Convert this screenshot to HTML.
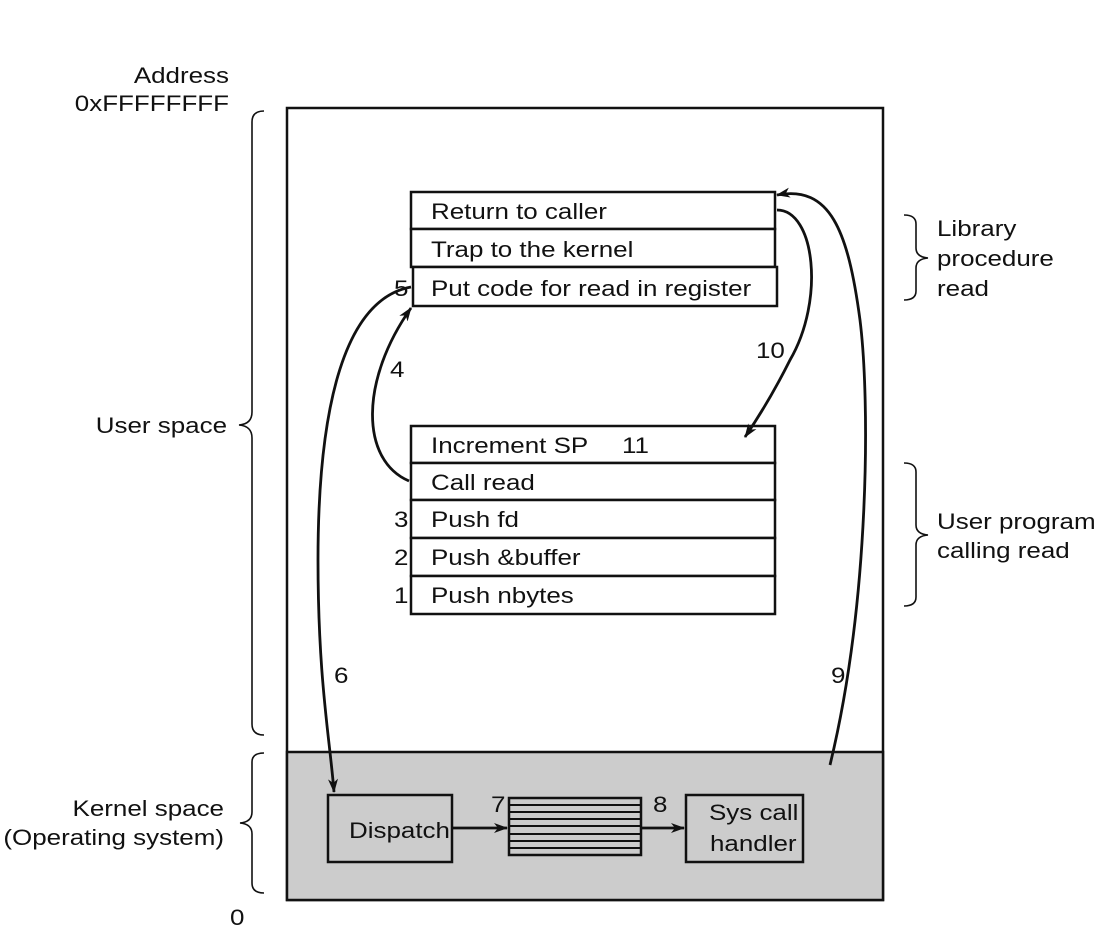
<!DOCTYPE html>
<html><head><style>
html,body{margin:0;padding:0;background:#fff;}
svg{display:block;}
text{font-family:"Liberation Sans",Arial,sans-serif;font-size:22px;fill:#111;}
</style></head><body>
<svg width="1114" height="940" viewBox="0 0 1114 940">
<defs>
<marker id="ah" markerWidth="14" markerHeight="10" refX="13" refY="5" orient="auto" markerUnits="userSpaceOnUse">
<path d="M0,0 L14,5 L0,10 L4,5 Z" fill="#111"/>
</marker>
</defs>
<rect x="287" y="108" width="596" height="792" fill="#fff" stroke="#111" stroke-width="2.5"/>
<rect x="287" y="752" width="596" height="148" fill="#cccccc" stroke="#111" stroke-width="2.5"/>

<g fill="#fff" stroke="#111" stroke-width="2.5">
<rect x="411" y="192" width="364" height="37"/>
<rect x="411" y="229" width="364" height="38"/>
<rect x="413" y="267" width="364" height="39"/>
<rect x="411" y="426" width="364" height="37"/>
<rect x="411" y="463" width="364" height="37"/>
<rect x="411" y="500" width="364" height="38"/>
<rect x="411" y="538" width="364" height="38"/>
<rect x="411" y="576" width="364" height="38"/>
</g>
<g transform="translate(431,219) scale(1.18,1)"><text>Return to caller</text></g>
<g transform="translate(431,257) scale(1.18,1)"><text>Trap to the kernel</text></g>
<g transform="translate(431,296) scale(1.18,1)"><text>Put code for read in register</text></g>
<g transform="translate(431,453) scale(1.18,1)"><text>Increment SP</text></g>
<g transform="translate(622,453) scale(1.18,1)"><text>11</text></g>
<g transform="translate(431,490) scale(1.18,1)"><text>Call read</text></g>
<g transform="translate(431,527) scale(1.18,1)"><text>Push fd</text></g>
<g transform="translate(431,565) scale(1.18,1)"><text>Push &amp;buffer</text></g>
<g transform="translate(431,603) scale(1.18,1)"><text>Push nbytes</text></g>
<g transform="translate(394,296) scale(1.18,1)"><text>5</text></g>
<g transform="translate(394,527) scale(1.18,1)"><text>3</text></g>
<g transform="translate(394,565) scale(1.18,1)"><text>2</text></g>
<g transform="translate(394,603) scale(1.18,1)"><text>1</text></g>
<g transform="translate(390,377) scale(1.18,1)"><text>4</text></g>
<g transform="translate(756,358) scale(1.18,1)"><text>10</text></g>
<g transform="translate(334,683) scale(1.18,1)"><text>6</text></g>
<g transform="translate(831,683) scale(1.18,1)"><text>9</text></g>

<g fill="#cccccc" stroke="#111" stroke-width="2.5">
<rect x="328" y="795" width="124" height="67"/>
<rect x="686" y="795" width="117" height="67"/>
<rect x="509" y="798" width="132" height="57"/>
</g>
<g stroke="#111" stroke-width="2">
<line x1="509" y1="805" x2="641" y2="805"/>
<line x1="509" y1="812" x2="641" y2="812"/>
<line x1="509" y1="819" x2="641" y2="819"/>
<line x1="509" y1="826" x2="641" y2="826"/>
<line x1="509" y1="834" x2="641" y2="834"/>
<line x1="509" y1="841" x2="641" y2="841"/>
<line x1="509" y1="848" x2="641" y2="848"/>
</g>
<g transform="translate(349,838) scale(1.18,1)"><text>Dispatch</text></g>
<g transform="translate(709,820) scale(1.18,1)"><text>Sys call</text></g>
<g transform="translate(710,851) scale(1.18,1)"><text>handler</text></g>
<g transform="translate(491,812) scale(1.18,1)"><text>7</text></g>
<g transform="translate(653,812) scale(1.18,1)"><text>8</text></g>

<g fill="none" stroke="#111" stroke-width="2.8">
<line x1="452" y1="828" x2="507" y2="828" marker-end="url(#ah)"/>
<line x1="641" y1="828" x2="684" y2="828" marker-end="url(#ah)"/>
<path d="M411,287 C340,300 318,420 318,560 C318,680 330,740 334,792" marker-end="url(#ah)"/>
<path d="M409,481 C360,460 360,380 411,308" marker-end="url(#ah)"/>
<path d="M777,210 C815,210 825,300 790,360 C775,390 760,415 745,437" marker-end="url(#ah)"/>
<path d="M830,765 C870,600 870,400 860,320 C848,230 830,185 777,195" marker-end="url(#ah)"/>
</g>

<g fill="none" stroke="#111" stroke-width="1.6">
<path d="M264,111 Q252,111 252,122 L252,412 Q252,424 239,425 Q252,426 252,438 L252,724 Q252,735 264,735"/>
<path d="M264,753 Q252,753 252,762 L252,812 Q252,822 240,823 Q252,824 252,834 L252,883 Q252,893 264,893"/>
<path d="M904,215 Q916,215 916,224 L916,248 Q916,257 928,258 Q916,259 916,268 L916,291 Q916,300 904,300"/>
<path d="M904,463 Q916,463 916,472 L916,525 Q916,534 928,535 Q916,536 916,545 L916,597 Q916,606 904,606"/>
</g>

<g transform="translate(229,83) scale(1.18,1)"><text text-anchor="end">Address</text></g>
<g transform="translate(229,111) scale(1.18,1)"><text text-anchor="end">0xFFFFFFFF</text></g>
<g transform="translate(227,433) scale(1.18,1)"><text text-anchor="end">User space</text></g>
<g transform="translate(224,816) scale(1.18,1)"><text text-anchor="end">Kernel space</text></g>
<g transform="translate(224,845) scale(1.18,1)"><text text-anchor="end">(Operating system)</text></g>
<g transform="translate(230,925) scale(1.18,1)"><text>0</text></g>
<g transform="translate(937,236) scale(1.18,1)"><text>Library</text></g>
<g transform="translate(937,266) scale(1.18,1)"><text>procedure</text></g>
<g transform="translate(937,296) scale(1.18,1)"><text>read</text></g>
<g transform="translate(937,529) scale(1.18,1)"><text>User program</text></g>
<g transform="translate(937,558) scale(1.18,1)"><text>calling read</text></g>
</svg>
</body></html>
